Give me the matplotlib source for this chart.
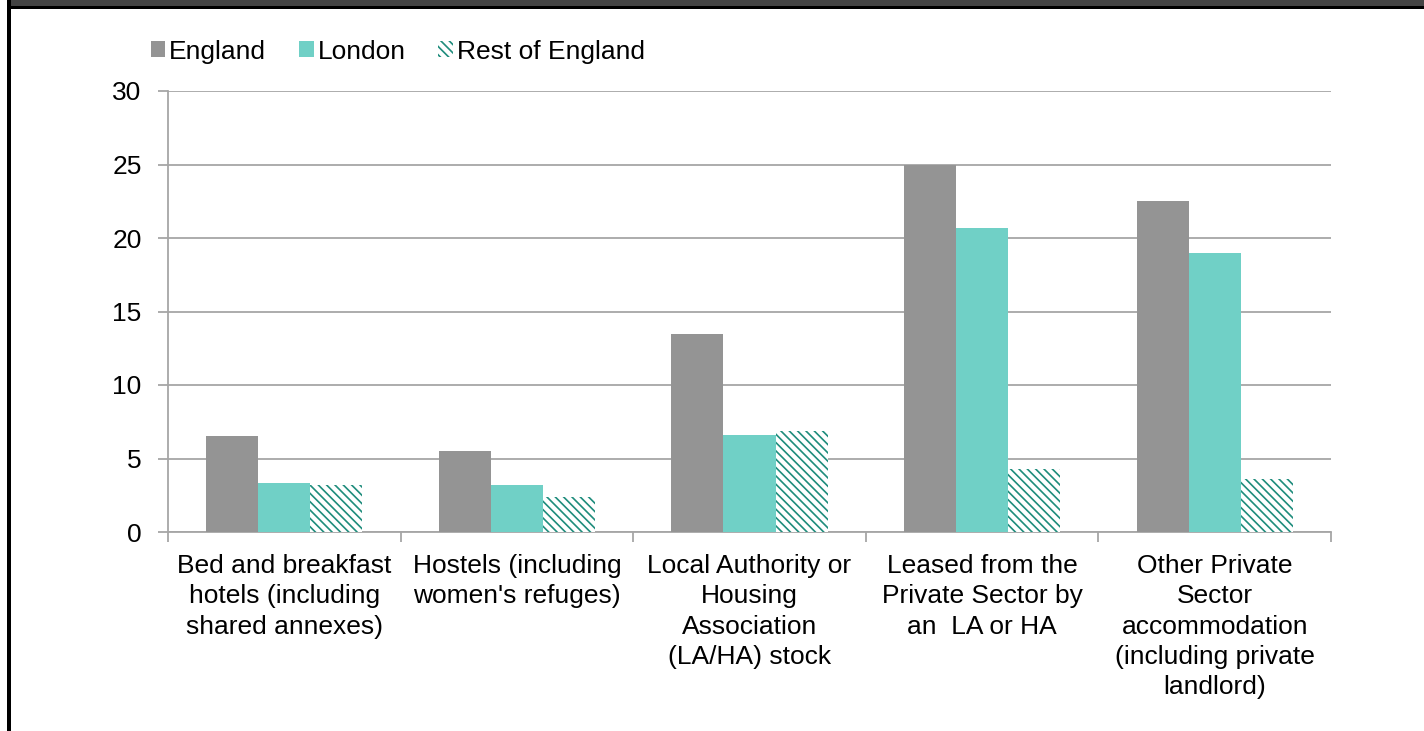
import numpy as np
import matplotlib
matplotlib.use('Agg')
import matplotlib.pyplot as plt
from matplotlib.patches import Rectangle

plt.rcParams['font.family'] = ['Liberation Sans', 'DejaVu Sans']
plt.rcParams['hatch.linewidth'] = 1.2
plt.rcParams['hatch.color'] = '#1e8c7c'

# Данные
categories = ['Bed and breakfast\nhotels (including\nshared annexes)',
              "Hostels (including\nwomen's refuges)",
              'Local Authority or\nHousing\nAssociation\n(LA/HA) stock',
              'Leased from the\nPrivate Sector by\nan  LA or HA',
              'Other Private\nSector\naccommodation\n(including private\nlandlord)']
england = [6.5, 5.5, 13.5, 25.0, 22.5]
london = [3.3, 3.2, 6.6, 20.7, 19.0]
rest_of_england = [3.2, 2.4, 6.9, 4.3, 3.6]

fig = plt.figure(figsize=(14.24, 7.31), dpi=100)
ax = fig.add_axes([168 / 1424, 1 - 532 / 731, (1331 - 168) / 1424, (532 - 91) / 731])

x = np.arange(len(categories))
w = 0.224
ax.bar(x - w, england, w, color='#949494', label='England', zorder=3)
ax.bar(x, london, w, color='#70d0c6', label='London', zorder=3)
ax.bar(x + w, rest_of_england, w, color='white', edgecolor='#1e8c7c', linewidth=0,
       hatch='\\\\\\\\', label='Rest of England', zorder=3)

ax.set_xlim(-0.5, 4.5)
ax.set_ylim(0, 30)
ax.set_yticks([0, 5, 10, 15, 20, 25, 30])
ax.yaxis.grid(True, color='#a6a6a6', linewidth=1.3, zorder=0)
ax.set_axisbelow(True)

# Подписи категорий по центру, деления на границах
ax.set_xticks(np.arange(-0.5, 5, 1))
ax.set_xticklabels([])
ax.set_xticks(x, minor=True)
ax.set_xticklabels(categories, minor=True, fontsize=19, linespacing=1.33)
ax.tick_params(axis='x', which='minor', length=0, pad=16)
ax.tick_params(axis='x', which='major', length=7, width=1.3, color='#a6a6a6')
ax.tick_params(axis='y', length=7, width=1.3, color='#a6a6a6', labelsize=19, pad=12)

for s in ['top', 'right']:
    ax.spines[s].set_visible(False)
for s in ['left', 'bottom']:
    ax.spines[s].set_color('#a6a6a6')
    ax.spines[s].set_linewidth(1.3)

fig.legend(loc='upper left', bbox_to_anchor=(140 / 1424, 1 - 29 / 731), ncol=3,
           frameon=False, fontsize=19, handlelength=0.55, handleheight=0.55,
           handletextpad=0.15, columnspacing=1.25, borderaxespad=0)

# Рамка сверху и слева
fig.add_artist(Rectangle((11 / 1424, 1 - 6 / 731), 1 - 11 / 1424, 6 / 731,
                         transform=fig.transFigure, facecolor='#444444', edgecolor='none'))
fig.add_artist(Rectangle((11 / 1424, 1 - 9 / 731), 1 - 11 / 1424, 3 / 731,
                         transform=fig.transFigure, facecolor='black', edgecolor='none'))
fig.add_artist(Rectangle((7 / 1424, 0), 4 / 1424, 1, transform=fig.transFigure,
                         facecolor='black', edgecolor='none'))

fig.savefig('out.png', dpi=100)
